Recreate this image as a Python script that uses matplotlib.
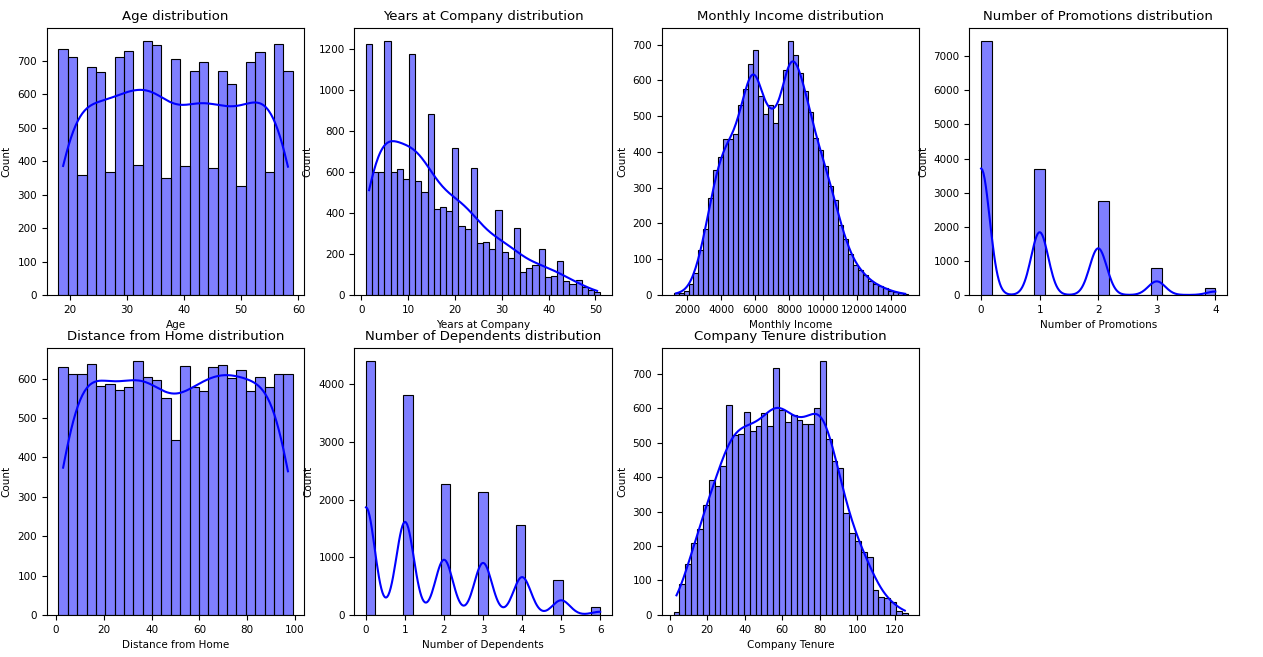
import matplotlib
matplotlib.use("Agg")
import matplotlib.pyplot as plt
import numpy as np
import seaborn as sns

# bin counts
age_range = (18, 59)
age_counts = [735, 712, 358, 683, 666, 367, 712, 730, 390, 760, 748, 349, 707,
              385, 671, 698, 379, 671, 632, 325, 698, 728, 367, 750, 671]

years_range = (1, 51)
years_counts = [1223, 597, 600, 1237, 597, 612, 567, 1173, 553, 503, 880, 420, 427,
                410, 717, 335, 323, 620, 253, 258, 225, 413, 207, 180, 327, 113,
                130, 148, 225, 87, 90, 165, 68, 55, 73, 38, 22, 13]

income_range = (1200, 15000)
income_counts = [5, 5, 10, 30, 60, 125, 185, 270, 350, 385, 435, 435, 450, 530, 575,
                 645, 685, 555, 505, 530, 480, 535, 630, 710, 670, 620, 570, 510,
                 440, 405, 360, 305, 265, 195, 155, 115, 85, 70, 55, 40, 30, 25,
                 18, 12, 8, 5, 3]

promo_values = [0, 1, 2, 3, 4]
promo_counts = [7450, 3700, 2750, 800, 200]

distance_range = (1, 99)
distance_counts = [630, 612, 612, 638, 582, 587, 572, 580, 645, 605, 597, 552, 445,
                   633, 578, 570, 630, 635, 602, 622, 570, 605, 580, 613, 613]

dep_values = [0, 1, 2, 3, 4, 5, 6]
dep_counts = [4400, 3810, 2260, 2130, 1550, 600, 130]

tenure_range = (2, 127)
tenure_counts = [8, 90, 148, 210, 250, 318, 393, 375, 433, 608, 522, 525, 588, 533,
                 548, 585, 547, 718, 595, 560, 580, 565, 553, 555, 600, 737, 512,
                 447, 425, 297, 238, 215, 183, 168, 73, 52, 48, 38, 12, 5]


def binned(rng, counts, bw):
    edges = np.linspace(rng[0], rng[1], len(counts) + 1)
    centers = (edges[:-1] + edges[1:]) / 2
    return np.repeat(centers, counts), edges, bw


def discrete(values, counts, nbins):
    edges = np.linspace(min(values), max(values), nbins + 1)
    return np.repeat(np.array(values, dtype=float), counts), edges, 1.0


panels = [
    ("Age", binned(age_range, age_counts, 1.8)),
    ("Years at Company", binned(years_range, years_counts, 1.8)),
    ("Monthly Income", binned(income_range, income_counts, 1.1)),
    ("Number of Promotions", discrete(promo_values, promo_counts, 22)),
    ("Distance from Home", binned(distance_range, distance_counts, 1.8)),
    ("Number of Dependents", discrete(dep_values, dep_counts, 25)),
    ("Company Tenure", binned(tenure_range, tenure_counts, 1.6)),
]

fig, axes = plt.subplots(2, 4, figsize=(12.63, 6.57), dpi=100)
fig.subplots_adjust(left=0.037, right=0.9715, top=0.957, bottom=0.064,
                    wspace=0.194, hspace=0.2)

for ax, (name, (data, edges, bw)) in zip(axes.flat, panels):
    sns.histplot(x=data, bins=edges, kde=True, color="blue", ax=ax,
                 edgecolor="black", linewidth=0.8, kde_kws={"bw_adjust": bw})
    ax.set_title(f"{name} distribution", fontsize=9.5)
    ax.set_xlabel(name, fontsize=7.5)
    ax.set_ylabel("Count", fontsize=7.5)
    ax.tick_params(labelsize=7.5)

axes.flat[7].axis("off")

plt.savefig("out.png", dpi=100)
